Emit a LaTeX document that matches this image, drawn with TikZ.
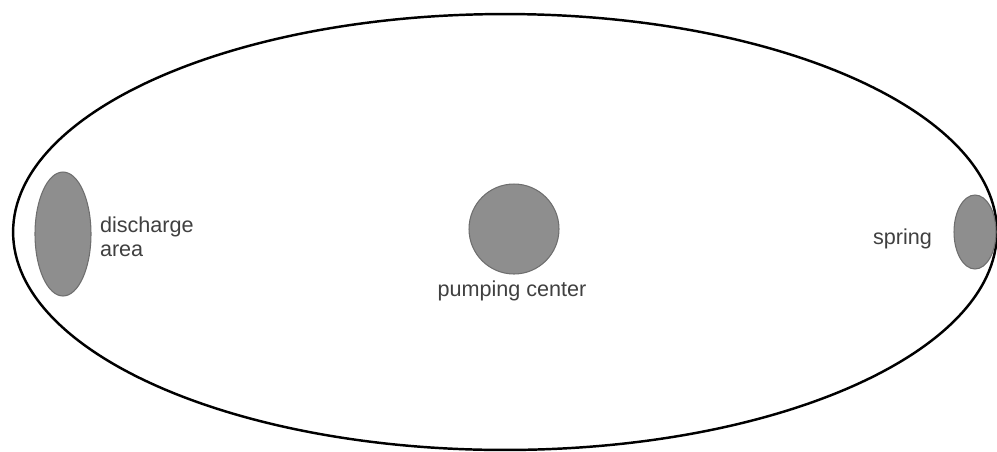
\documentclass[tikz,border=0pt]{standalone}
\usepackage{fontspec}
\setmainfont{Liberation Sans}
\usetikzlibrary{shapes.geometric}
\definecolor{blobfill}{RGB}{142,142,142}
\definecolor{blobline}{RGB}{110,110,110}
\begin{document}
\begin{tikzpicture}[x=0.02cm,y=-0.02cm,
  region/.style={ellipse,draw=black,line width=1.4pt,inner sep=0pt,minimum width=19.68cm,minimum height=8.72cm},
  blob/.style={ellipse,fill=blobfill,draw=blobline,line width=0.6pt,inner sep=0pt},
  lbl/.style={inner sep=0pt,outer sep=0pt,font=\fontsize{12.3}{13.1}\selectfont,text=black!75,align=left}]
\useasboundingbox (0,0) rectangle (997,451);
\node[region] (aquifer) at (505,232) {};
\node[blob,minimum width=1.12cm,minimum height=2.48cm] (discharge) at (63,234) {};
\node[blob,circle,minimum size=1.8cm] (pump) at (514,229) {};
\node[blob,minimum width=0.84cm,minimum height=1.48cm] (spring) at (975,232) {};
\node[lbl,anchor=base west] (dtext) at (100,256) {discharge\\area};
\node[lbl,anchor=base west] (stext) at (873,244) {spring};
\node[lbl,anchor=base] (ptext) at (512,296) {pumping center};
\end{tikzpicture}
\end{document}
